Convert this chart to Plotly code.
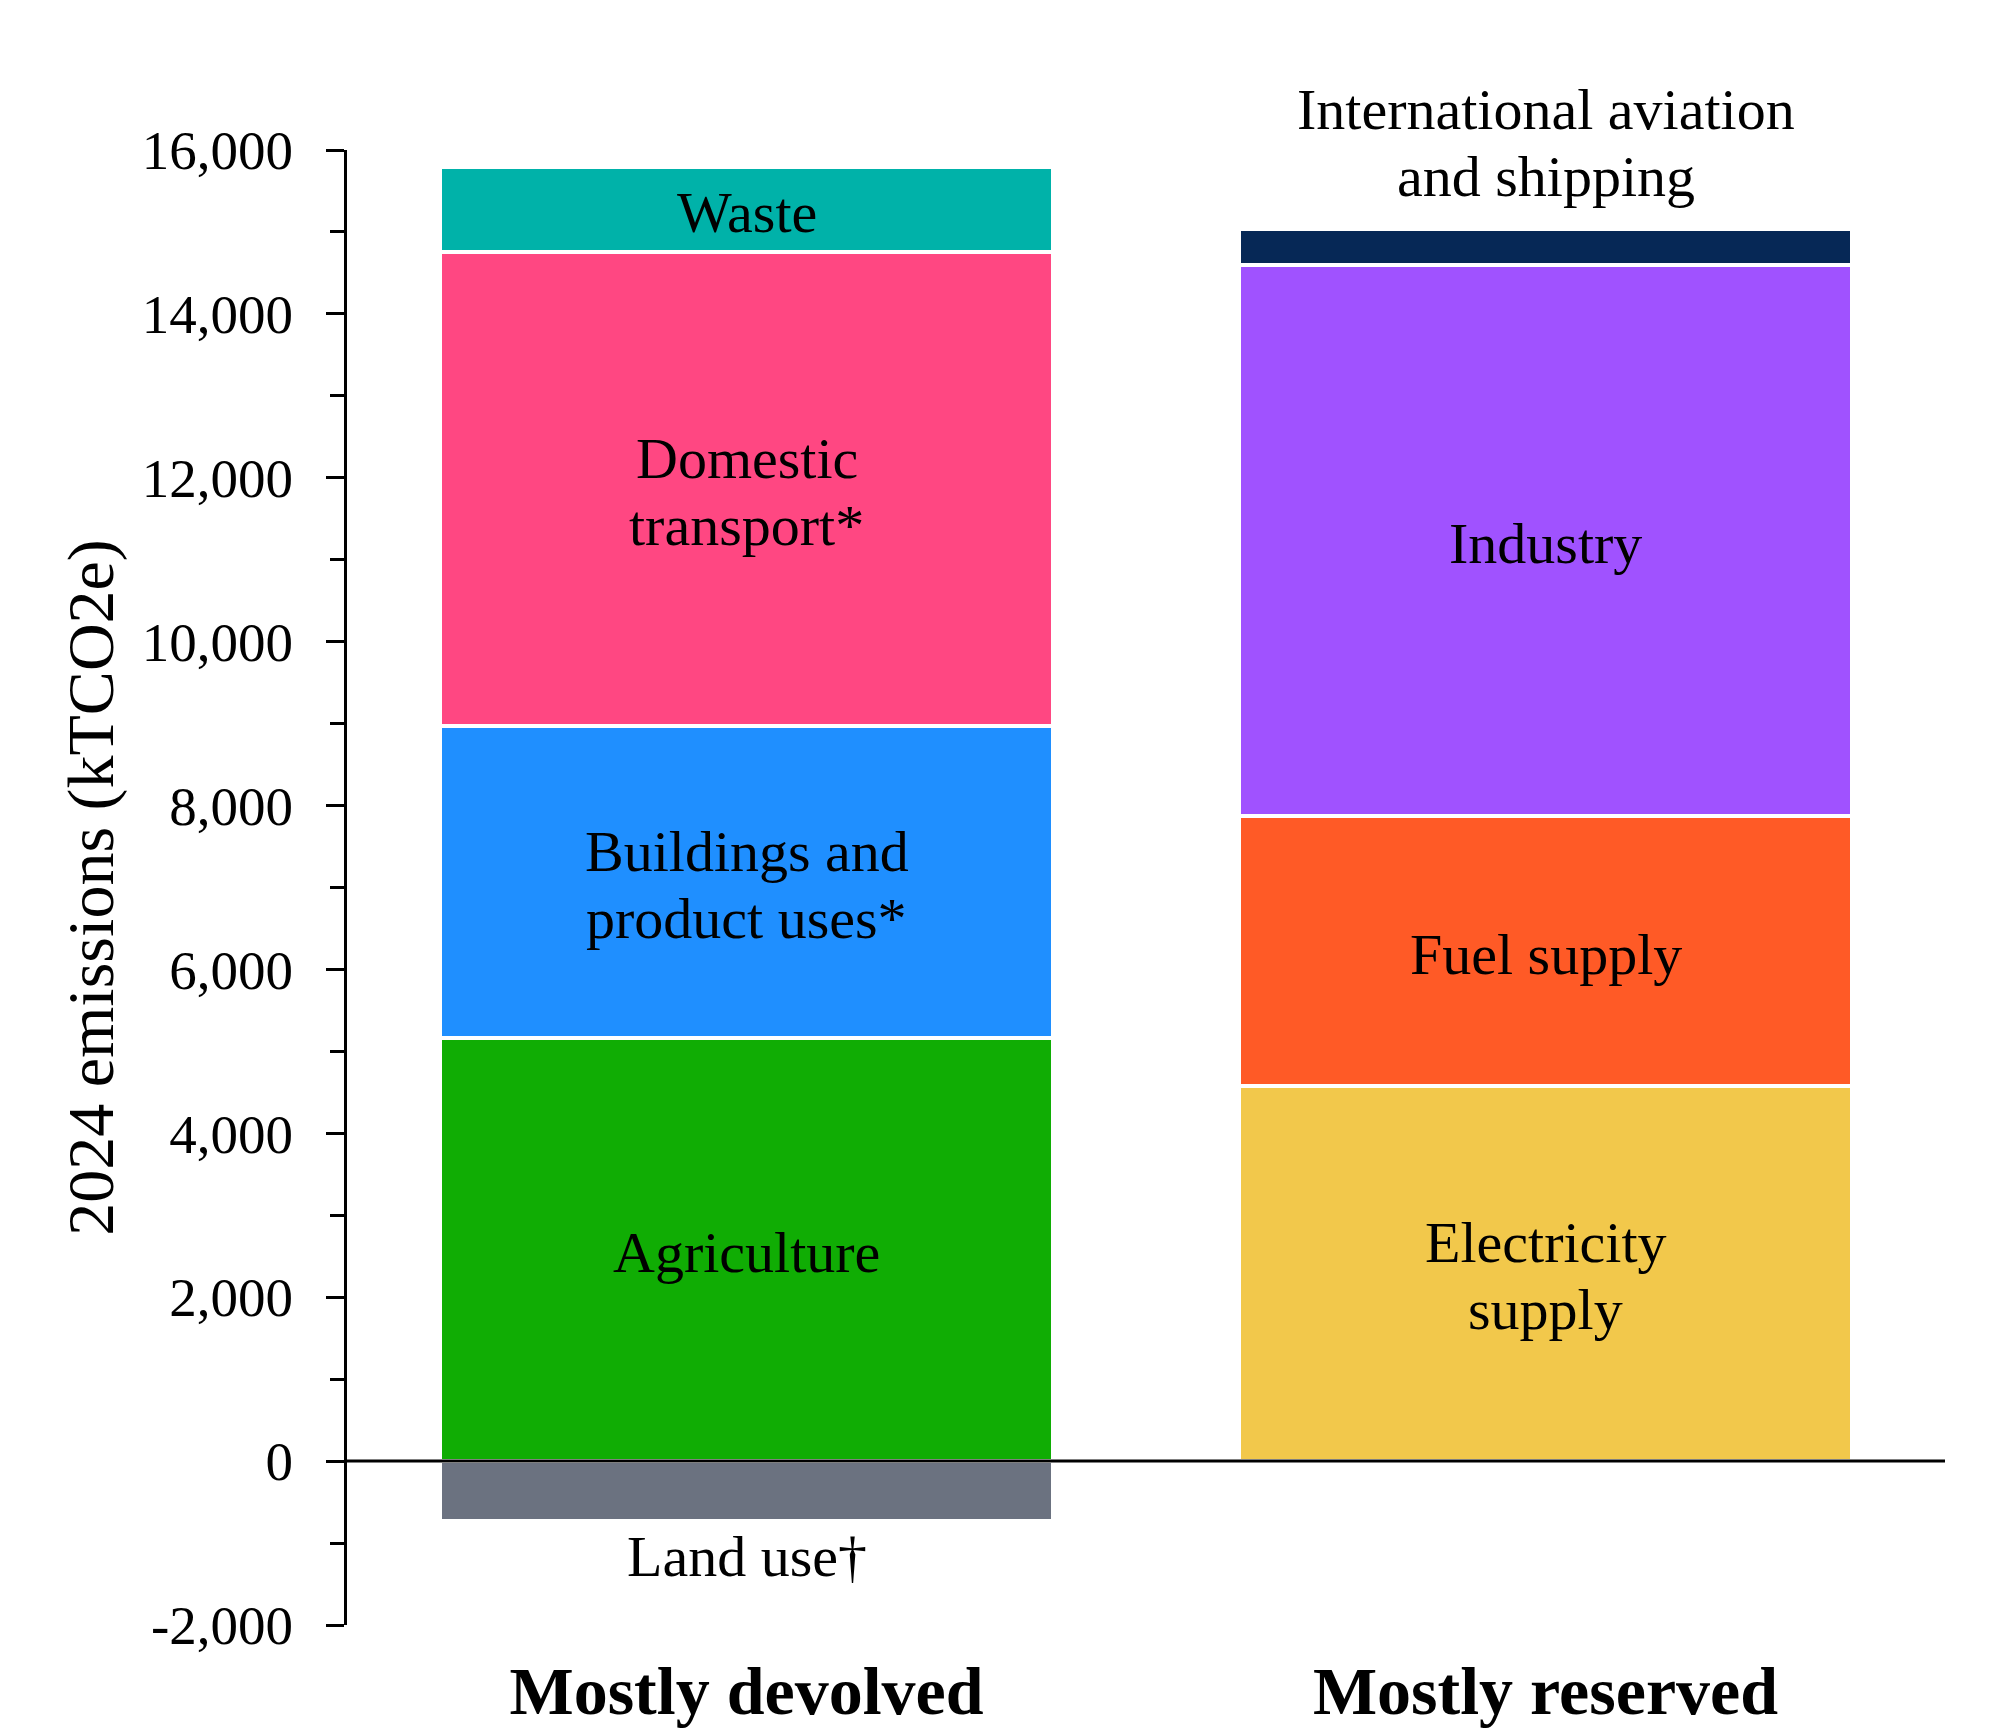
import plotly.graph_objects as go

# ---- data ----
categories = ["Mostly devolved", "Mostly reserved"]

devolved_sectors = ["Land use†", "Agriculture", "Buildings and<br>product uses*", "Domestic<br>transport*", "Waste"]
devolved_values = [-730, 5165, 3805, 5790, 1035]
devolved_colors = ["#6B7280", "#10AD04", "#1F8FFF", "#FF4782", "#00B2A9"]
devolved_label_pos = ["below", "inside", "inside", "inside", "inside"]

reserved_sectors = ["Electricity<br>supply", "Fuel supply", "Industry", "International aviation<br>and shipping"]
reserved_values = [4580, 3290, 6730, 435]
reserved_colors = ["#F2C84B", "#FF5A26", "#A052FF", "#062856"]
reserved_label_pos = ["inside", "inside", "inside", "above"]

y_tick_values = [-2000, 0, 2000, 4000, 6000, 8000, 10000, 12000, 14000, 16000]
y_tick_labels = ["-2,000", "0", "2,000", "4,000", "6,000", "8,000", "10,000", "12,000", "14,000", "16,000"]
y_title = "2024 emissions (kTCO2e)"

FONT = "Liberation Serif"
LABEL_SIZE = 58
LINE_STEP = 67  # px between baselines of two-line labels

fig = go.Figure()
annotations = []

def label_lines(cat, y, text, anchor, base_shift):
    lines = text.split("<br>")
    n = len(lines)
    for i, line in enumerate(lines):
        if anchor == "middle":
            shift = -(i - (n - 1) / 2) * LINE_STEP
        elif anchor == "bottom":
            shift = (n - 1 - i) * LINE_STEP
        else:  # top
            shift = -i * LINE_STEP
        annotations.append(dict(
            x=cat, y=y, text=line, showarrow=False, xref="x", yref="y",
            yanchor=anchor, yshift=shift + base_shift,
            font=dict(family=FONT, size=LABEL_SIZE, color="black")))

def add_stack(cat, sectors, values, colors, positions):
    pos_base = 0.0
    neg_base = 0.0
    for name, v, c, p in zip(sectors, values, colors, positions):
        fig.add_trace(go.Bar(
            x=[cat], y=[v], name=name.replace("<br>", " "),
            marker=dict(color=c, line=dict(color="white", width=4)),
            width=0.768, showlegend=False, hoverinfo="name+y",
        ))
        if v >= 0:
            lo, hi = pos_base, pos_base + v
            pos_base = hi
        else:
            hi, lo = neg_base, neg_base + v
            neg_base = lo
        if p == "inside":
            label_lines(cat, (lo + hi) / 2, name, "middle", -3)
        elif p == "below":
            label_lines(cat, lo, name, "top", -1)
        else:
            label_lines(cat, hi, name, "bottom", 18)

add_stack(categories[0], devolved_sectors, devolved_values, devolved_colors, devolved_label_pos)
add_stack(categories[1], reserved_sectors, reserved_values, reserved_colors, reserved_label_pos)

fig.update_layout(
    width=1998, height=1736,
    margin=dict(l=347, r=53, t=150, b=111, autoexpand=False),
    paper_bgcolor="white", plot_bgcolor="white",
    barmode="relative", bargap=0,
    font=dict(family=FONT, color="black"),
    annotations=annotations,
    shapes=[dict(type="line", xref="paper", x0=0, x1=1, yref="y", y0=0, y1=0,
                 line=dict(color="black", width=3), layer="above")],
)

fig.update_xaxes(
    type="category", categoryorder="array", categoryarray=categories,
    range=[-0.5, 1.5], showline=False, showgrid=False, zeroline=False, ticks="",
    tickfont=dict(family=FONT, size=68, color="black", weight="bold"),
    ticklabelstandoff=20,
)

fig.update_yaxes(
    range=[-2000, 16000], tickmode="array", tickvals=y_tick_values, ticktext=y_tick_labels,
    showline=True, linecolor="black", linewidth=3,
    ticks="outside", ticklen=18, tickwidth=3, tickcolor="black",
    minor=dict(dtick=1000, ticks="outside", ticklen=14, tickwidth=3, tickcolor="black", showgrid=False),
    showgrid=False, zeroline=False,
    tickfont=dict(family=FONT, size=55, color="black"),
    ticklabelstandoff=22,
    title=dict(text=y_title, font=dict(family=FONT, size=66, color="black"), standoff=7),
)

fig.write_html("out.html")
